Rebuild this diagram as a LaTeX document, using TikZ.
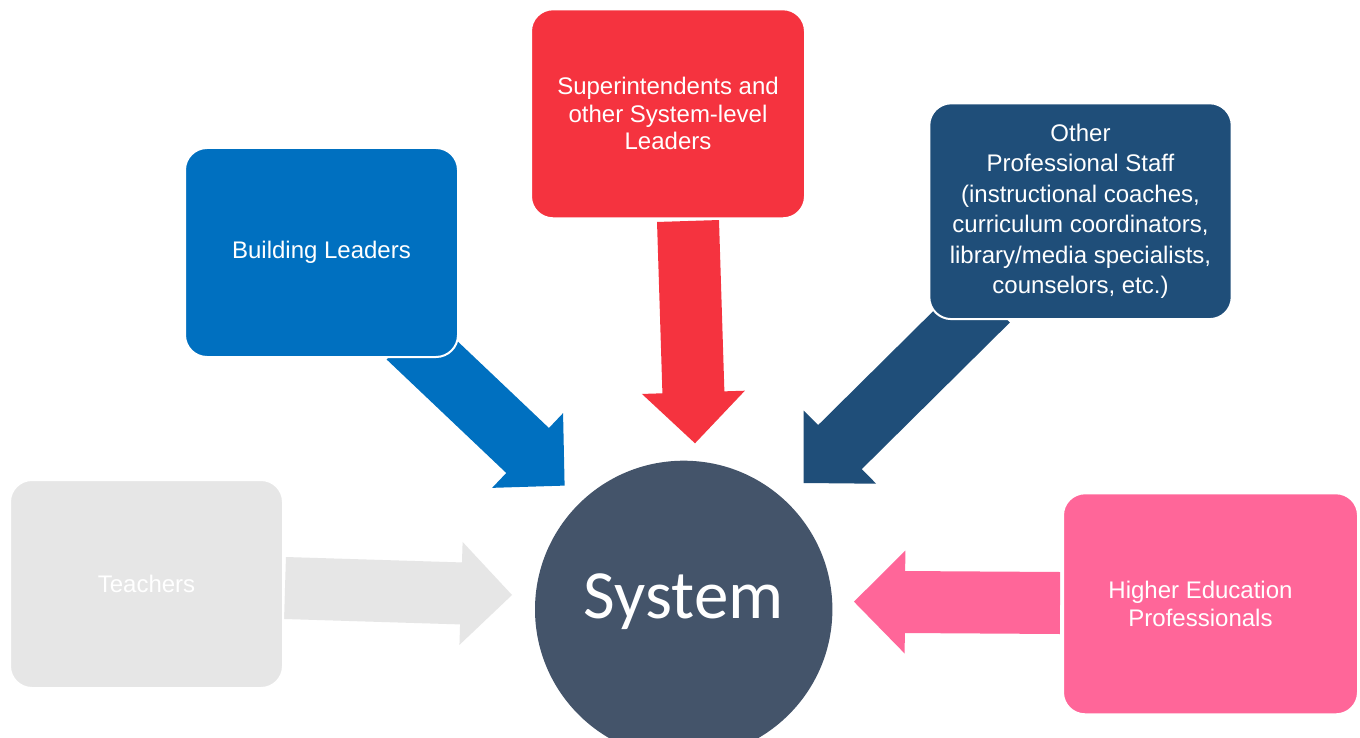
\documentclass[tikz,border=0pt]{standalone}
\usepackage{fontspec}
\setmainfont{Liberation Sans}
\newfontfamily\sysfont{Carlito}
\usetikzlibrary{calc}

\definecolor{teachgray}{HTML}{E6E6E6}
\definecolor{buildblue}{HTML}{0070C0}
\definecolor{superred}{HTML}{F5333F}
\definecolor{staffblue}{HTML}{1F4E79}
\definecolor{higherpink}{HTML}{FF6699}
\definecolor{systemgray}{HTML}{44546A}

\tikzset{
  box/.style={rectangle, rounded corners=11pt, draw=white, line width=1pt,
    text=white, align=center, inner sep=0pt,
    font=\fontsize{12}{13.7}\selectfont},
}

% block arrow: colour, tail, tip
\newcommand\blockarrow[3]{%
  \coordinate (hb) at ($(#3)!25.5pt!(#2)$);
  \fill[#1] ($(#2)!15.5pt!90:(#3)$) -- ($(hb)!15.5pt!-90:(#2)$)
    -- ($(hb)!25.75pt!-90:(#2)$) -- (#3) -- ($(hb)!25.75pt!90:(#2)$)
    -- ($(hb)!15.5pt!90:(#2)$) -- ($(#2)!15.5pt!-90:(#3)$) -- cycle;
}

\begin{document}
\begin{tikzpicture}[x=0.5pt,y=-0.5pt]
  \useasboundingbox (0,0) rectangle (1360,738);
  \clip (0,0) rectangle (1360,738);
  \fill[white] (0,0) rectangle (1360,738);

  % arrow ends
  \coordinate (teachtail) at (285,588);   \coordinate (teachtip) at (512,595);
  \coordinate (buildtail) at (408,337);   \coordinate (buildtip) at (564.6,485.6);
  \coordinate (supertail) at (688,221);   \coordinate (supertip) at (695,443.3);
  \coordinate (stafftail) at (988,300.5); \coordinate (stafftip) at (803.7,483);
  \coordinate (highertail) at (1060,603); \coordinate (highertip) at (854,601.7);

  \blockarrow{teachgray}{teachtail}{teachtip}
  \blockarrow{buildblue}{buildtail}{buildtip}
  \blockarrow{superred}{supertail}{supertip}
  \blockarrow{staffblue}{stafftail}{stafftip}
  \blockarrow{higherpink}{highertail}{highertip}

  \node[box, fill=teachgray, minimum width=136.5pt, minimum height=104pt]
    (teachers) at (146.5,584) {Teachers};
  \node[box, fill=buildblue, minimum width=136.5pt, minimum height=104.5pt]
    (building) at (321.5,252.5) {Building Leaders};
  \node[box, fill=superred, minimum width=137pt, minimum height=104.5pt]
    (supers) at (668,113.8) {Superintendents and\\other System-level\\Leaders};
  \node[box, fill=staffblue, minimum width=151.2pt, minimum height=107.9pt,
    font=\fontsize{12}{15.2}\selectfont]
    (staff) at (1080.5,211.2) {Other\\Professional Staff\\(instructional coaches,\\curriculum coordinators,\\library/media specialists,\\counselors, etc.)};
  \node[box, fill=higherpink, minimum width=147.5pt, minimum height=110.5pt]
    (higher) at (1210.5,603.8) {Higher Education\hspace*{10pt}\\Professionals\hspace*{10pt}};

  \node[circle, fill=systemgray, text=white, inner sep=0pt, minimum size=148.7pt,
    text height=22.5pt, text depth=13pt,
    font=\sysfont\fontsize{34.5}{40}\selectfont] (system) at (683.7,609.4) {System};
\end{tikzpicture}
\end{document}
